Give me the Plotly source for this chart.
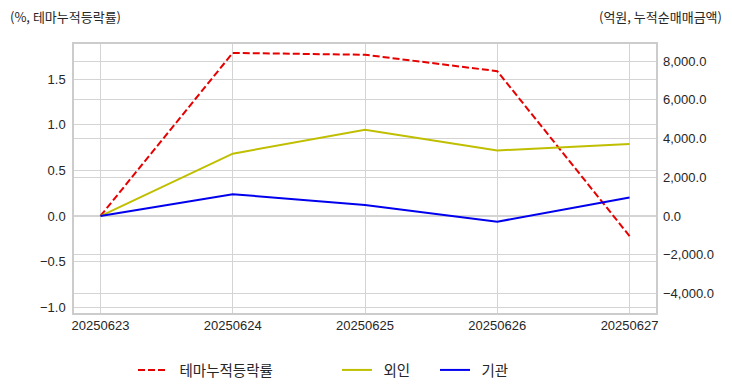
import plotly.graph_objects as go

dates = ["20250623", "20250624", "20250625", "20250626", "20250627"]
theme_pct = [0.0, 1.79, 1.77, 1.59, -0.22]
foreign = [0.0, 3220.0, 4450.0, 3390.0, 3720.0]
institution = [0.0, 1130.0, 570.0, -290.0, 960.0]
series_names = ["테마누적등락률", "외인", "기관"]

FONT = "Liberation Sans, Arial, Noto Sans CJK KR, sans-serif"
KFONT = "Noto Sans CJK KR, Liberation Sans, sans-serif"
GRID = "#d4d4d4"
SPINE = "#cccccc"
TXT = "#262626"
PAD = "\u00a0\u00a0"  # small gap between legend line and label

fig = go.Figure()
fig.add_trace(go.Scatter(x=dates, y=theme_pct, name=PAD + series_names[0], mode="lines",
                         line=dict(color="#e60000", width=2, dash="7px,3px"),
                         yaxis="y", legend="legend"))
fig.add_trace(go.Scatter(x=dates, y=foreign, name=PAD + series_names[1], mode="lines",
                         line=dict(color="#bfbf00", width=2),
                         yaxis="y2", legend="legend2"))
fig.add_trace(go.Scatter(x=dates, y=institution, name=PAD + series_names[2], mode="lines",
                         line=dict(color="#0000ee", width=2),
                         yaxis="y2", legend="legend2"))

LEG_Y = 1 - (370 - 44) / 269

fig.update_layout(
    width=732, height=392,
    margin=dict(l=74, r=76, t=44, b=79, autoexpand=False),
    paper_bgcolor="white", plot_bgcolor="white",
    font=dict(family=FONT, size=13, color=TXT),
    showlegend=True,
    xaxis=dict(type="category", range=[-0.2, 4.2], showgrid=True, gridcolor=GRID, gridwidth=1,
               showline=True, linecolor=SPINE, linewidth=1.5, mirror=True,
               ticks="", ticklabelstandoff=0, zeroline=False,
               tickfont=dict(family=FONT, size=13, color=TXT)),
    yaxis=dict(range=[-1.065, 1.888], tickvals=[-1.0, -0.5, 0.0, 0.5, 1.0, 1.5],
               tickformat=".1f", showgrid=True, gridcolor=GRID, gridwidth=1,
               showline=True, linecolor=SPINE, linewidth=1.5, mirror=True,
               zeroline=False, ticks="", ticklabelstandoff=4,
               tickfont=dict(family=FONT, size=13, color=TXT)),
    yaxis2=dict(range=[-5000, 8880], tickvals=[-4000, -2000, 0, 2000, 4000, 6000, 8000],
                tickformat=",.1f", overlaying="y", side="right", showgrid=True,
                gridcolor=GRID, gridwidth=1, zeroline=False, showline=False,
                ticks="", ticklabelstandoff=6,
                tickfont=dict(family=FONT, size=13, color=TXT)),
    legend=dict(orientation="h", x=(133 - 74) / 582, xanchor="left", y=LEG_Y, yanchor="middle",
                font=dict(family=KFONT, size=14.5, color=TXT), bgcolor="rgba(0,0,0,0)"),
    legend2=dict(orientation="h", x=(337 - 74) / 582, xanchor="left", y=LEG_Y, yanchor="middle",
                 entrywidth=53, entrywidthmode="pixels",
                 font=dict(family=KFONT, size=14.5, color=TXT), bgcolor="rgba(0,0,0,0)"),
    annotations=[
        dict(text="(%, 테마누적등락률)", xref="paper", yref="paper",
             x=(8 - 74) / 582, y=1 + (44 - 16) / 269, xanchor="left", yanchor="middle",
             showarrow=False, font=dict(family=KFONT, size=13, color=TXT)),
        dict(text="(억원, 누적순매매금액)", xref="paper", yref="paper",
             x=(724 - 74) / 582, y=1 + (44 - 16) / 269, xanchor="right", yanchor="middle",
             showarrow=False, font=dict(family=KFONT, size=13, color=TXT)),
    ],
)

fig.write_html("out.html", post_script="document.body.style.margin='0';",
               config={"displayModeBar": False})
